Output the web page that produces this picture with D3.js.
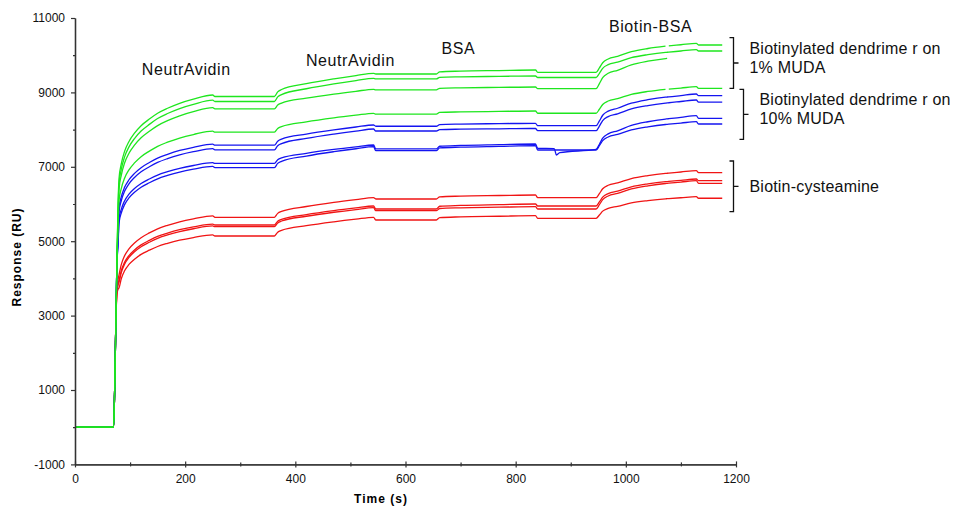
<!DOCTYPE html>
<html>
<head>
<meta charset="utf-8">
<script src="https://cdn.jsdelivr.net/npm/d3@7"></script>
<style>
  body { margin:0; background:#fff; }
  text { font-family: Arial, "Liberation Sans", sans-serif; }
</style>
</head>
<body>
<script>
/////////////////////////////////////////////////////////////////////
// SENSORGRAM DATA
/////////////////////////////////////////////////////////////////////
var times = [0,70,72,74,76,78,80,84,90,98,108,120,135,150,168,190,215,250,254,362,
             368,375,420,470,510,542,546,656,662,700,770,836,840,870,874,880,946,
             952,958,968,985,1010,1040,1072,1075,1078,1100,1128,1132,1175];

var green1 = [0,0,1005,2680,4355,5896,6700,7079,7414,7681,7904,8105,8283,8439,8573,8707,8819,8930,8890,8890,9015,9077,9233,9363,9451,9513,9495,9495,9554,9572,9588,9602,9540,9540,9540,9540,9540,9657,9797,9899,9969,10094,10180,10242,null,10250,10281,10320,10274,10274];
var green2 = [0,0,1005,2680,4355,5764,6550,6931,7267,7536,7760,7961,8140,8297,8432,8566,8678,8790,8755,8755,8880,8942,9098,9229,9317,9379,9362,9362,9405,9419,9431,9441,9400,9400,9400,9400,9400,9513,9648,9745,9813,9933,10015,10075,10079,10083,10113,10150,10113,10113];
var green3 = [0,0,1005,2680,4355,5632,6400,6772,7101,7364,7583,7780,7955,8108,8240,8371,8481,8590,8555,8555,8661,8713,8845,8956,9030,9083,9068,9068,9110,9123,9135,9145,9100,9100,9100,9100,9100,9235,9397,9514,9595,9739,9838,9910,9915,null,null,null,null,null];
var green4 = [0,0,1005,2680,4355,5368,6100,6416,6695,6918,7104,7272,7421,7551,7662,7774,7867,7960,7930,7930,8032,8082,8209,8316,8387,8438,8415,8415,8462,8476,8489,8500,8440,8440,8440,8440,8440,8547,8675,8768,8832,8946,9025,9082,null,9089,9117,9153,9110,9110];

var blue1 = [0,0,1005,2680,4355,5192,5900,6191,6447,6652,6823,6977,7114,7234,7336,7439,7525,7610,7580,7580,7689,7743,7879,7993,8070,8124,8090,8090,8134,8148,8160,8170,8105,8105,8105,8105,8105,8233,8386,8497,8574,8710,8804,8872,8876,8880,8914,8957,8912,8912];
var blue2 = [0,0,1005,2680,4355,5104,5800,6087,6341,6544,6713,6865,7000,7118,7220,7321,7406,7490,7455,7455,7567,7623,7764,7881,7960,8016,7962,7962,7999,8011,8021,8030,7970,7970,7970,7970,7970,8094,8243,8350,8424,8556,8647,8713,8718,8722,8755,8796,8740,8740];
var blue3 = [0,0,1005,2680,4355,4928,5600,5857,6083,6264,6415,6551,6672,6778,6868,6959,7035,7110,7090,7090,7189,7239,7363,7467,7536,7586,7480,7480,7553,7576,7596,7613,7497,7490,7317,7380,7470,7606,7768,7886,7967,8112,8211,8284,8288,8293,8329,8374,8304,8304];
var blue4 = [0,0,1005,2680,4355,4840,5500,5757,5983,6164,6315,6451,6572,6678,6768,6859,6935,7010,6980,6980,7092,7148,7289,7406,7485,7541,7433,7433,7507,7530,7550,7568,7452,7452,7452,7452,7452,7566,7703,7802,7871,7992,8076,8137,8141,8145,8175,8213,8151,8151];

var red1 = [0,0,1005,2680,3700,3950,4100,4369,4606,4795,4953,5095,5222,5332,5427,5522,5601,5680,5643,5643,5748,5801,5933,6044,6117,6170,6135,6135,6194,6212,6228,6242,6170,6170,6170,6170,6170,6279,6410,6504,6569,6685,6765,6823,6827,6831,6860,6896,6842,6842];
var red2 = [0,0,1005,2680,3650,3850,3950,4207,4433,4614,4765,4901,5022,5128,5218,5309,5385,5460,5436,5436,5538,5589,5717,5824,5895,5946,5866,5866,5940,5962,5983,6000,5946,5946,5946,5946,5946,6055,6186,6280,6345,6461,6541,6599,6603,6607,6636,6672,6627,6627];
var red3 = [0,0,1005,2680,3620,3810,3900,4157,4383,4564,4715,4851,4972,5078,5168,5259,5335,5410,5390,5390,5492,5543,5671,5778,5850,5901,5820,5820,5879,5898,5914,5928,5866,5866,5866,5866,5866,5980,6117,6216,6285,6406,6490,6551,6555,6559,6589,6627,6556,6556];
var red4 = [0,0,1005,2680,3550,3700,3750,3991,4204,4375,4517,4645,4758,4858,4943,5028,5099,5170,5140,5140,5241,5291,5417,5522,5593,5643,5570,5570,5634,5654,5671,5686,5616,5616,5616,5616,5616,5703,5808,5883,5936,6029,6092,6139,6142,6145,6168,6197,6154,6154];

var yMajor = [-1000,1000,3000,5000,7000,9000,11000];
var yMinor = [0,2000,4000,6000,8000,10000];
var xMajor = [0,200,400,600,800,1000,1200];
var xMinor = [100,300,500,700,900,1100];

// injection labels: [text, time, response]
var injections = [["NeutrAvidin",202,9470],["NeutrAvidin",500,9710],["BSA",696,10030],["Biotin-BSA",1045,10620]];

// bracket groups: [line1, line2, top response, bottom response, x offset]
var groups = [["Biotinylated dendrime r on","1% MUDA",10470,9110,0],
              ["Biotinylated dendrime r on","10% MUDA",9083,7739,10],
              ["Biotin-cysteamine","",7156,5793,0]];

/////////////////////////////////////////////////////////////////////
// SETUP
/////////////////////////////////////////////////////////////////////
var W=955, H=508;
var svg=d3.select("body").append("svg").attr("width",W).attr("height",H);

var x=d3.scaleLinear().domain([0,1200]).range([75,736]);
var y=d3.scaleLinear().domain([-1000,11000]).range([464.4,18]);

var axisColor="#333";
var plain=function(d){ return d<0 ? "-"+Math.abs(d) : String(d); };

// curves, red first so green ends up on top (as in the original)
var series=[
   {v:red1,c:"#f01414"},{v:red2,c:"#f01414"},{v:red3,c:"#f01414"},{v:red4,c:"#f01414"},
   {v:blue1,c:"#1414f0"},{v:blue2,c:"#1414f0"},{v:blue3,c:"#1414f0"},{v:blue4,c:"#1414f0"},
   {v:green1,c:"#1ee61e"},{v:green2,c:"#1ee61e"},{v:green3,c:"#1ee61e"},{v:green4,c:"#1ee61e"}
];

var line=d3.line()
   .defined(function(d){ return d!==null; })
   .x(function(d,i){ return x(times[i]); })
   .y(function(d){ return y(d); })
   .curve(d3.curveMonotoneX);

svg.append("g").selectAll("path").data(series).enter().append("path")
   .attr("d",function(s){ return line(s.v); })
   .attr("fill","none")
   .attr("stroke",function(s){ return s.c; })
   .attr("stroke-width",1.3);

//-------------------------------------------------------------------
// Axes
//-------------------------------------------------------------------
svg.append("g").attr("transform","translate("+x(0)+",0)")
   .call(d3.axisLeft(y).tickValues(yMajor).tickSize(4).tickPadding(6).tickFormat(plain).tickSizeOuter(0));
svg.append("g").attr("transform","translate("+x(0)+",0)")
   .call(d3.axisLeft(y).tickValues(yMinor).tickSize(2).tickFormat("").tickSizeOuter(0));

var gx=svg.append("g").attr("transform","translate(0,"+y(-1000)+")")
   .call(d3.axisBottom(x).tickValues(xMajor).tickSize(3).tickPadding(7).tickFormat(plain).tickSizeOuter(0));
gx.selectAll(".tick line").attr("y1",-3);
var gxm=svg.append("g").attr("transform","translate(0,"+y(-1000)+")")
   .call(d3.axisBottom(x).tickValues(xMinor).tickSize(2).tickFormat("").tickSizeOuter(0));
gxm.selectAll(".tick line").attr("y1",-2);

svg.selectAll(".domain").attr("stroke",axisColor).attr("stroke-width",1.3);
svg.selectAll(".tick line").attr("stroke",axisColor).attr("stroke-width",1.2);
svg.selectAll(".tick text").attr("fill","#111").style("font-size","12px")
   .style("font-family","Arial, 'Liberation Sans', sans-serif");

svg.append("text").attr("transform","translate(21,257) rotate(-90)")
   .attr("text-anchor","middle").style("font-size","12px").style("font-weight","bold")
   .style("letter-spacing","1px").text("Response (RU)");
svg.append("text").attr("x",381).attr("y",503)
   .attr("text-anchor","middle").style("font-size","12px").style("font-weight","bold")
   .style("letter-spacing","1px").text("Time (s)");

//-------------------------------------------------------------------
// Injection labels
//-------------------------------------------------------------------
svg.selectAll(".inj").data(injections).enter().append("text")
   .attr("class","inj")
   .attr("x",function(d){ return x(d[1]); })
   .attr("y",function(d){ return y(d[2]); })
   .attr("text-anchor","middle")
   .style("font-size","16px").style("letter-spacing","0.6px").attr("fill","#111")
   .text(function(d){ return d[0]; });

//-------------------------------------------------------------------
// Brackets with group names
//-------------------------------------------------------------------
groups.forEach(function(g){
   var bx=733.5+g[4], y0=y(g[2]), y1=y(g[3]), ym=(y0+y1)/2;
   svg.append("path")
      .attr("d","M"+(bx-4)+","+y0+"H"+bx+"V"+y1+"H"+(bx-4)+"M"+bx+","+ym+"H"+(bx+5))
      .attr("fill","none").attr("stroke","#111").attr("stroke-width",1.3);
   var tx=bx+16;
   var t=function(ty,s){
      svg.append("text").attr("x",tx).attr("y",ty).style("font-size","16px")
         .style("letter-spacing","0.2px").attr("fill","#111").text(s);
   };
   if (g[1]==="") {
      t(ym+6,g[0]);
   } else {
      t(ym-9,g[0]);
      t(ym+10,g[1]);
   }
});
</script>
</body>
</html>
